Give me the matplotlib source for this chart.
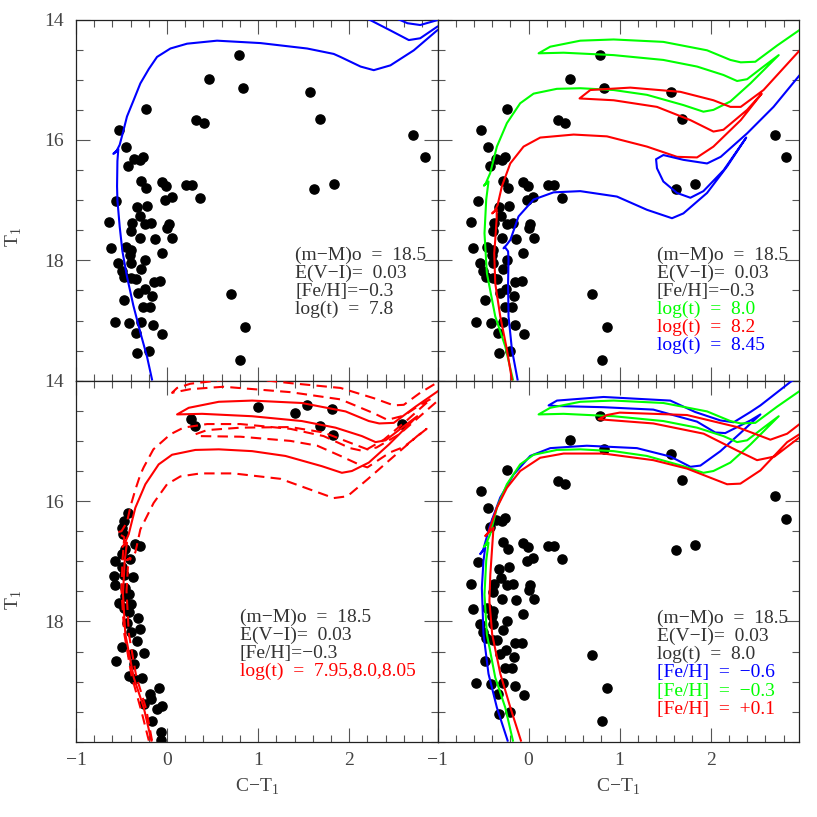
import matplotlib
matplotlib.use('Agg')
import matplotlib.pyplot as plt
from matplotlib.ticker import MultipleLocator
import numpy as np

nan = np.nan

# cluster stars (same sample in panels a, b, d)
star_ct1 = [0.788, 0.458, 0.832, 1.568, 1.685, -0.234, 0.322, 0.403, 2.703, 2.832,
            -0.524, -0.447, -0.359, -0.264, -0.293, -0.429, -0.286, -0.227, -0.059, -0.007,
            0.209, 0.278, 0.363, 1.619, 1.832, -0.557, -0.022, 0.051, -0.220, -0.326,
            -0.634, -0.385, -0.300, -0.238, -0.176, -0.392, -0.293, -0.136, 0.018, 0.000,
            0.055, -0.615, -0.454, -0.392, -0.403, -0.059, -0.238, -0.396, -0.535, -0.498,
            -0.282, -0.469, -0.396, -0.344, -0.147, -0.077, -0.245, -0.315, -0.165, -0.476,
            -0.260, -0.183, 0.700, -0.575, -0.414, -0.286, -0.154, -0.337, -0.055, 0.857,
            -0.330, -0.201, 0.802]
star_t1 = [14.59, 14.99, 15.13, 15.21, 15.65, 15.48, 15.67, 15.72, 15.91, 16.29,
           15.83, 16.11, 16.31, 16.28, 16.33, 16.43, 16.68, 16.80, 16.69, 16.76,
           16.74, 16.75, 16.97, 16.81, 16.73, 17.02, 16.99, 16.94, 17.09, 17.12,
           17.37, 17.38, 17.27, 17.40, 17.38, 17.51, 17.63, 17.65, 17.39, 17.47,
           17.63, 17.80, 17.77, 17.82, 17.91, 17.87, 17.99, 18.05, 18.05, 18.17,
           18.14, 18.28, 18.30, 18.31, 18.36, 18.35, 18.47, 18.54, 18.59, 18.66,
           18.77, 18.78, 18.56, 19.03, 19.04, 19.03, 19.07, 19.20, 19.22, 19.11,
           19.54, 19.50, 19.65]

# stars of panel c
bl_ct1 = [1.000, 1.403, 1.538, 1.813, 1.685, 1.824, 2.575, 0.264, 0.311,
          -0.429, -0.476, -0.495, -0.484, -0.348, -0.293, -0.458, -0.495, -0.403, -0.568,
          -0.495, -0.586, -0.374, -0.575, -0.458, -0.421, -0.531, -0.421, -0.322, -0.436,
          -0.293, -0.400, -0.330, -0.257, -0.495, -0.557, -0.385, -0.366, -0.421, -0.359,
          -0.275, -0.084, -0.183, -0.256, -0.172, -0.055, -0.110, -0.165, -0.066, -0.066,
          -0.476, -0.458, -0.400, -0.476]
bl_t1 = [14.44, 14.54, 14.41, 14.47, 14.76, 14.91, 14.72, 14.64, 14.76,
         16.19, 16.33, 16.44, 16.55, 16.72, 16.75, 16.80, 16.88, 16.97, 16.99,
         17.10, 17.24, 17.26, 17.39, 17.44, 17.55, 17.69, 17.85, 17.95, 18.02,
         18.13, 18.18, 18.32, 18.53, 18.42, 18.66, 18.54, 18.70, 18.90, 18.96,
         18.94, 19.11, 19.20, 19.37, 19.29, 19.41, 19.45, 19.65, 19.84, 19.97,
         17.22, 17.58, 17.71, 17.77]

# isochrone log(t)=7.8, [Fe/H]=-0.3
iso78_x = [-0.165, -0.22, -0.293, -0.37, -0.44, -0.49, -0.52, -0.545, -0.549, -0.545,
           -0.535, -0.59, -0.56, -0.52, -0.48, -0.44, -0.37, -0.293, -0.20, -0.11,
           0.037, 0.22, 0.549, 1.026, 1.538, 1.83, 1.904, 2.125, 2.27, 2.453,
           2.71, 2.965, 3.05, nan,
           2.15, 2.234, 2.453, 2.655, 2.78, 2.965, 3.05, nan,
           2.50, 2.564, 2.64, 2.78, 2.965, 3.00]
iso78_y = [19.98, 19.60, 19.20, 18.75, 18.27, 17.85, 17.44, 17.00, 16.77, 16.35,
           16.15, 16.23, 16.20, 16.08, 15.85, 15.61, 15.35, 15.06, 14.82, 14.62,
           14.48, 14.40, 14.35, 14.39, 14.48, 14.57, 14.62, 14.78, 14.84, 14.76,
           14.51, 14.18, 14.10, nan,
           13.95, 14.01, 14.18, 14.34, 14.31, 14.12, 14.05, nan,
           13.97, 14.01, 14.06, 14.09, 14.01, 13.98]

# isochrone log(t)=8.0, [Fe/H]=-0.3
iso80_x = [-0.172, -0.256, -0.366, -0.458, -0.484, -0.465, -0.44, -0.49, -0.47, -0.421,
           -0.348, -0.238, -0.092, 0.055, 0.311, 0.568, 0.934, 1.30, 1.70, 1.92,
           2.03, 2.216, 2.436, 2.747, 2.58, 2.40, 2.29, 2.14, 1.85, 1.48,
           0.934, 0.385, 0.11, 0.238, 0.568, 0.934, 1.48, 1.96, 2.216, 2.33,
           2.49, 2.73, 2.978, 3.05]
iso80_y = [19.98, 19.43, 18.93, 18.21, 17.55, 16.99, 16.69, 16.76, 16.72, 16.55,
           16.11, 15.72, 15.39, 15.23, 15.15, 15.14, 15.17, 15.25, 15.42, 15.53,
           15.50, 15.36, 15.06, 14.59, 14.78, 14.99, 15.02, 14.92, 14.78, 14.67,
           14.59, 14.55, 14.56, 14.45, 14.35, 14.33, 14.37, 14.51, 14.67, 14.71,
           14.70, 14.43, 14.17, 14.12]

# isochrone log(t)=8.2, [Fe/H]=-0.3
iso82_x = [-0.183, -0.238, -0.311, -0.366, -0.377, -0.366, -0.35, -0.35, -0.40, -0.37,
           -0.34, -0.293, -0.201, -0.055, 0.128, 0.495, 0.861, 1.30, 1.63, 1.85,
           2.03, 2.33, 2.56, 2.40, 2.14, 2.03, 1.777, 1.41, 0.934, 0.56,
           0.678, 1.117, 1.667, 2.03, 2.216, 2.33, 2.58, 2.978, 3.05]
iso82_y = [19.98, 19.48, 18.93, 18.38, 17.88, 17.66, 17.30, 17.15, 17.22, 17.18,
           17.08, 16.77, 16.39, 16.11, 15.96, 15.91, 15.94, 16.11, 16.28, 16.29,
           16.11, 15.67, 15.23, 15.50, 15.83, 15.86, 15.67, 15.45, 15.34, 15.31,
           15.17, 15.13, 15.20, 15.34, 15.45, 15.45, 15.17, 14.51, 14.43]

# isochrone log(t)=8.45, [Fe/H]=-0.3
iso845_x = [-0.121, -0.183, -0.22, -0.225, -0.22, -0.225, -0.26, -0.275, -0.24, -0.20,
            -0.11, 0.055, 0.275, 0.568, 0.97, 1.30, 1.575, 1.70, 1.96, 2.18,
            2.39, 2.143, 1.92, 1.777, 1.63, 1.48, 1.41, 1.40, 1.48, 1.70,
            1.96, 2.11, 2.40, 2.69, 2.978, 3.05]
iso845_y = [19.98, 19.48, 18.93, 18.38, 17.99, 17.85, 17.78, 17.80, 17.74, 17.66,
            17.27, 16.99, 16.87, 16.85, 16.94, 17.16, 17.30, 17.22, 16.88, 16.44,
            15.96, 16.50, 16.85, 16.96, 16.88, 16.69, 16.47, 16.32, 16.25, 16.33,
            16.39, 16.28, 15.89, 15.45, 14.92, 14.82]

# isochrone log(t)=7.95, [Fe/H]=-0.3
iso795_x = [-0.20, -0.28, -0.39, -0.47, -0.50, -0.49, -0.47, -0.55, -0.50, -0.44,
            -0.40, -0.348, -0.293, -0.257, -0.15, 0.037, 0.18, 0.44, 0.806, 1.355,
            1.72, 2.01, 2.16, 2.38, 2.64, 2.90, 2.78, 2.60, 2.42, 2.27,
            1.905, 1.355, 0.622, 0.256, 0.055, 0.11, 0.256, 0.60, 1.00, 1.355,
            1.905, 2.27, 2.49, 2.60, 2.78, 2.967, 3.05]
iso795_y = [19.98, 19.50, 18.90, 18.20, 17.50, 17.00, 16.60, 16.52, 16.50, 16.35,
            16.08, 15.81, 15.56, 15.44, 15.14, 14.89, 14.78, 14.72, 14.72, 14.80,
            14.92, 15.12, 15.17, 14.98, 14.65, 14.30, 14.40, 14.58, 14.65, 14.54,
            14.31, 14.19, 14.10, 14.14, 14.20, 14.12, 14.05, 13.99, 13.98, 14.04,
            14.12, 14.29, 14.41, 14.40, 14.20, 14.03, 13.95]

# isochrone log(t)=8.05, [Fe/H]=-0.3
iso805_x = [-0.165, -0.23, -0.34, -0.42, -0.445, -0.43, -0.40, -0.44, -0.37, -0.348,
            -0.293, -0.147, 0.0, 0.146, 0.366, 0.729, 1.245, 1.575, 1.83, 1.98,
            2.20, 2.45, 2.747, 2.85, 2.60, 2.45, 2.20, 2.12, 1.905, 1.65,
            1.355, 0.806, 0.347, 0.311, 0.44, 0.806, 1.355, 1.72, 2.01, 2.20,
            2.30, 2.55, 2.967, 3.05]
iso805_y = [19.98, 19.45, 18.90, 18.20, 17.50, 17.10, 16.95, 16.98, 16.90, 16.85,
            16.47, 16.03, 15.72, 15.59, 15.54, 15.54, 15.63, 15.81, 15.95, 15.92,
            15.64, 15.31, 14.92, 14.80, 15.10, 15.19, 15.44, 15.40, 15.25, 15.08,
            15.00, 14.93, 14.92, 14.89, 14.82, 14.78, 14.77, 14.86, 15.03, 15.14,
            15.11, 14.89, 14.34, 14.25]

# log(t)=8.0, [Fe/H]=-0.6
feh06_x = [-0.23, -0.348, -0.44, -0.495, -0.513, -0.495, -0.476, -0.531, -0.50, -0.421,
           -0.311, -0.165, 0.018, 0.238, 0.64, 1.19, 1.557, 1.777, 1.887, 2.107,
           2.326, 2.546, 2.436, 2.16, 2.05, 1.85, 1.37, 0.824, 0.30, 0.22,
           0.312, 0.824, 1.557, 1.83, 2.107, 2.253, 2.436, 2.546, 2.876, 2.95]
feh06_y = [19.98, 19.43, 18.87, 18.21, 17.44, 16.99, 16.77, 16.88, 16.82, 16.39,
           15.94, 15.56, 15.25, 15.12, 15.08, 15.12, 15.26, 15.43, 15.41, 15.17,
           14.87, 14.56, 14.66, 14.87, 14.86, 14.68, 14.48, 14.44, 14.42, 14.41,
           14.33, 14.27, 14.33, 14.52, 14.66, 14.69, 14.52, 14.41, 14.02, 13.95]

# log(t)=8.0, [Fe/H]=+0.1
feh01_x = [-0.084, -0.20, -0.31, -0.40, -0.43, -0.42, -0.40, -0.385, -0.476, -0.44,
           -0.348, -0.238, -0.092, 0.128, 0.385, 0.824, 1.37, 1.74, 2.18, 2.326,
           2.546, 2.84, 2.985, 3.05, nan,
           3.05, 2.985, 2.84, 2.655, 2.29, 1.74, 1.00, 0.86, 0.77, 1.37,
           1.923, 2.29, 2.509, 2.70, 2.985, 3.05]
feh01_y = [19.98, 19.43, 18.87, 18.21, 17.66, 17.22, 16.77, 16.44, 16.58, 16.52,
           16.11, 15.78, 15.50, 15.28, 15.21, 15.21, 15.32, 15.46, 15.72, 15.71,
           15.49, 15.02, 14.88, 14.82, nan,
           14.65, 14.71, 14.88, 14.98, 14.77, 14.57, 14.53, 14.57, 14.64, 14.71,
           14.88, 15.16, 15.32, 15.26, 14.93, 14.88]

BLUE, GREEN, RED = '#0000ff', '#00ff00', '#ff0000'
TXT = '#333333'

plt.rcParams['font.family'] = ['Liberation Serif', 'DejaVu Serif']
plt.rcParams['mathtext.fontset'] = 'custom'
plt.rcParams['mathtext.rm'] = 'Liberation Serif'

fig, axes = plt.subplots(2, 2, figsize=(8.17, 8.17), dpi=100)
plt.subplots_adjust(left=0.093, right=0.978, top=0.976, bottom=0.092,
                    wspace=0, hspace=0)

for i, ax in enumerate(axes.flat):
    ax.set_xlim(-1, 2.97)
    ax.set_ylim(20, 14)
    ax.set_xticks([-1, 0, 1, 2])
    ax.set_yticks([14, 16, 18])
    ax.xaxis.set_minor_locator(MultipleLocator(0.2))
    ax.yaxis.set_minor_locator(MultipleLocator(0.5))
    ax.tick_params(which='both', direction='in', top=True, right=True,
                   color='#555555', width=0.8, labelsize=14, labelcolor='#444444')
    ax.tick_params(which='major', length=10)
    ax.tick_params(which='minor', length=5)
    ax.tick_params(axis='x', pad=7)
    ax.tick_params(axis='y', pad=9)
    for sp in ax.spines.values():
        sp.set_linewidth(0.9)
        sp.set_color('#222222')
    if i % 2 == 1:
        ax.tick_params(labelleft=False)
    if i < 2:
        ax.tick_params(labelbottom=False)
    else:
        ax.set_xlabel(r'C$-$T$_\mathrm{1}$', fontsize=14, color='#444444', labelpad=6)

ms = 6.6
lw = 1.5
a, b, c, d = axes.flat

# panel a
a.plot(star_ct1, star_t1, 'o', color='k', ms=ms, zorder=2)
a.plot(iso78_x, iso78_y, color=BLUE, lw=lw, zorder=3)

# panel b
b.plot(star_ct1, star_t1, 'o', color='k', ms=ms, zorder=2)
b.plot(iso80_x, iso80_y, color=GREEN, lw=lw, zorder=3)
b.plot(iso82_x, iso82_y, color=RED, lw=lw, zorder=3)
b.plot(iso845_x, iso845_y, color=BLUE, lw=lw, zorder=3)

# panel c
c.plot(bl_ct1, bl_t1, 'o', color='k', ms=ms, zorder=2)
c.plot(iso80_x, iso80_y, color=RED, lw=lw, zorder=3)
c.plot(iso795_x, iso795_y, color=RED, lw=lw, dashes=(5, 3), zorder=3)
c.plot(iso805_x, iso805_y, color=RED, lw=lw, dashes=(5, 3), zorder=3)

# panel d
d.plot(star_ct1, star_t1, 'o', color='k', ms=ms, zorder=2)
d.plot(feh06_x, feh06_y, color=BLUE, lw=lw, zorder=3)
d.plot(iso80_x, iso80_y, color=GREEN, lw=lw, zorder=3)
d.plot(feh01_x, feh01_y, color=RED, lw=lw, zorder=3)


def label_block(ax, x, y0, lines):
    for k, (s, col) in enumerate(lines):
        ax.text(x, y0 + 0.302 * k, s, color=col, fontsize=14,
                va='center', ha='left')


common = [('(m\u2212M)o  =  18.5', TXT), ('E(V\u2212I)=  0.03', TXT)]
label_block(a, 1.41, 17.91, common + [('[Fe/H]=\u22120.3', TXT),
                                      ('log(t)  =  7.8', TXT)])
label_block(b, 1.41, 17.91, common + [('[Fe/H]=\u22120.3', TXT),
                                      ('log(t)  =  8.0', GREEN),
                                      ('log(t)  =  8.2', RED),
                                      ('log(t)  =  8.45', BLUE)])
label_block(c, 0.80, 17.93, common + [('[Fe/H]=\u22120.3', TXT),
                                      ('log(t)  =  7.95,8.0,8.05', RED)])
label_block(d, 1.41, 17.95, common + [('log(t)  =  8.0', TXT),
                                      ('[Fe/H]  =  \u22120.6', BLUE),
                                      ('[Fe/H]  =  \u22120.3', GREEN),
                                      ('[Fe/H]  =  +0.1', RED)])

fig.text(14 / 817, 1 - 237 / 817, r'T$_\mathrm{1}$', rotation=90, fontsize=14,
         color='#444444', ha='center', va='center')
fig.text(14 / 817, 1 - 600 / 817, r'T$_\mathrm{1}$', rotation=90, fontsize=14,
         color='#444444', ha='center', va='center')

fig.savefig('out.png', dpi=100)
